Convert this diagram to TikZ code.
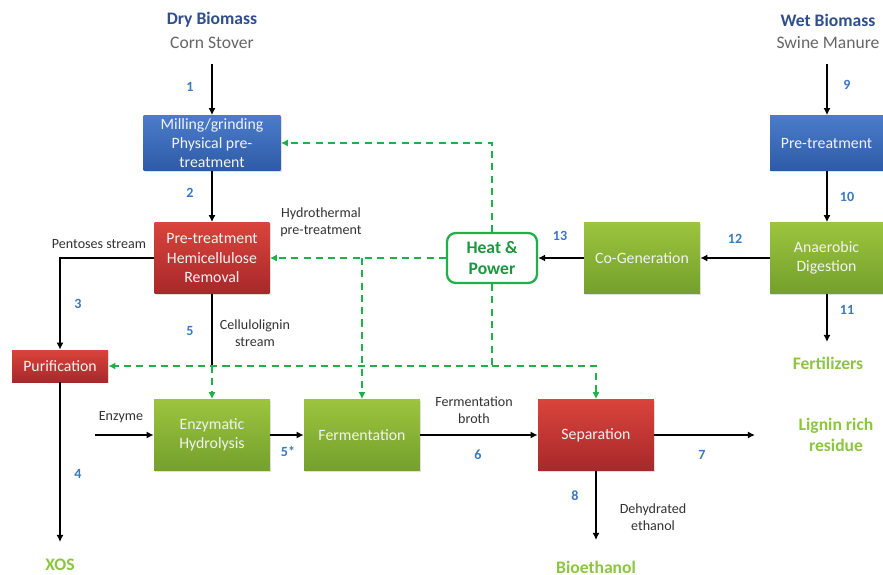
\documentclass[tikz,border=0pt]{standalone}
\usepackage{fontspec}
\setmainfont{Carlito}
\usetikzlibrary{arrows.meta,calc,shadows}
\definecolor{bluetop}{HTML}{4A7CCB}
\definecolor{bluebot}{HTML}{2E5BA6}
\definecolor{redtop}{HTML}{D9443C}
\definecolor{redbot}{HTML}{A8282A}
\definecolor{grntop}{HTML}{9CC43E}
\definecolor{grnbot}{HTML}{74A02C}
\definecolor{numblue}{HTML}{3A78C0}
\definecolor{titleblue}{HTML}{2F4E8C}
\definecolor{subgray}{HTML}{666666}
\definecolor{outgreen}{HTML}{8CC63F}
\definecolor{dashgreen}{HTML}{1FB04A}
\definecolor{boxtext}{HTML}{F2F2F2}
\definecolor{lbl}{HTML}{333333}
\tikzset{
  px/.style={x=0.02cm,y=-0.02cm},
  proc/.style={rectangle, draw=none, text=boxtext, align=center,
    font=\fontsize{9}{11}\selectfont, inner sep=1pt,
    drop shadow={shadow xshift=0.6pt, shadow yshift=-0.8pt, opacity=0.25}},
  bluebox/.style={proc, top color=bluetop, bottom color=bluebot},
  redbox/.style={proc, top color=redtop, bottom color=redbot},
  grnbox/.style={proc, top color=grntop, bottom color=grnbot},
  num/.style={text=numblue, font=\fontsize{8}{9}\selectfont\bfseries},
  lab/.style={text=lbl, align=center, font=\fontsize{8}{9.5}\selectfont},
  ttl/.style={text=titleblue, font=\fontsize{10}{11}\selectfont\bfseries},
  sub/.style={text=subgray, font=\fontsize{10}{11}\selectfont},
  outp/.style={text=outgreen, align=center, font=\fontsize{10}{12}\selectfont\bfseries},
  flow/.style={draw=black, line width=0.9pt, -{Latex[length=4pt,width=4pt]}},
  flowplain/.style={draw=black, line width=0.9pt},
  heat/.style={draw=dashgreen, line width=1pt, dash pattern=on 4pt off 3pt, -{Latex[length=4pt,width=4pt]}},
}
\begin{document}
\begin{tikzpicture}[px]
\useasboundingbox[fill=white] (0,0) rectangle (883,575);
% titles
\node[ttl] (dry) at (212,20) {Dry Biomass};
\node[sub] (corn) at (212,43) {Corn Stover};
\node[ttl] (wet) at (828,20) {Wet Biomass};
\node[sub] (swine) at (828,43) {Swine Manure};
% boxes
\node[bluebox, minimum width=2.74cm, minimum height=1.10cm] (mill) at (212,143) {Milling/grinding\\Physical pre-\\treatment};
\node[redbox, minimum width=2.30cm, minimum height=1.42cm] (hemi) at (212,258) {Pre-treatment\\Hemicellulose\\Removal};
\node[redbox, minimum width=1.92cm, minimum height=0.64cm] (puri) at (60,366) {Purification};
\node[grnbox, minimum width=2.32cm, minimum height=1.42cm] (enz) at (212,435) {Enzymatic\\Hydrolysis};
\node[grnbox, minimum width=2.32cm, minimum height=1.42cm] (ferm) at (362,435) {Fermentation};
\node[redbox, minimum width=2.32cm, minimum height=1.42cm] (sep) at (596,435) {Separation};
\node[grnbox, minimum width=2.32cm, minimum height=1.42cm] (cogen) at (642,258) {Co-Generation};
\node[grnbox, minimum width=2.26cm, minimum height=1.42cm] (anae) at (826.5,258) {Anaerobic\\Digestion};
\node[bluebox, minimum width=2.26cm, minimum height=1.10cm] (pret) at (826.5,143) {Pre-treatment};
\node[rectangle, rounded corners=5pt, draw=dashgreen, line width=1.3pt, fill=white,
  text=dashgreen!85!black, align=center, font=\fontsize{10}{12}\selectfont\bfseries,
  minimum width=1.80cm, minimum height=1.0cm, inner sep=1pt] (hp) at (492,258) {Heat \&\\Power};
% outputs
\node[outp] (xos) at (60,565) {XOS};
\node[outp] (bio) at (596,567) {Bioethanol};
\node[outp] (lig) at (836,435) {Lignin rich\\residue};
\node[outp] (fert) at (828,363) {Fertilizers};
% helper coordinates
\coordinate (dryend) at (212,64);
\coordinate (wetend) at (827,64);
\coordinate (pentc) at (60,258);
\coordinate (enzin) at (95,435);
\coordinate (xosin) at (60,542);
\coordinate (bioin) at (596,540);
\coordinate (ligin) at (755,435);
\coordinate (fertin) at (827,342);
\coordinate (jcell) at (212,366);
\coordinate (hptop) at (492,143);
\coordinate (hpbot) at (492,366);
\coordinate (sepc) at (596,366);
\coordinate (fermc) at (362,258);
% black flows
\draw[flow] (dryend) -- (mill.north);
\draw[flow] (mill.south) -- (hemi.north);
\draw[flow] (hemi.west) -- (pentc) -- (puri.north);
\draw[flowplain] (hemi.south) -- (jcell);
\draw[flow] (puri.south) -- (xosin);
\draw[flow] (enzin) -- (enz.west);
\draw[flow] (enz.east) -- (ferm.west);
\draw[flow] (ferm.east) -- (sep.west);
\draw[flow] (sep.east) -- (ligin);
\draw[flow] (sep.south) -- (bioin);
\draw[flow] (wetend) -- (pret.north -| wetend);
\draw[flow] (pret.south -| wetend) -- (anae.north -| wetend);
\draw[flow] (anae.south -| wetend) -- (fertin);
\draw[flow] (anae.west) -- (cogen.east);
\draw[flow] (cogen.west) -- (hp.east);
% green dashed heat lines
\draw[heat] (hp.north) -- (hptop) -- (mill.east);
\draw[heat] (hp.west) -- (hemi.east);
\draw[heat] (fermc) -- (ferm.north);
\draw[heat] (hp.south) -- (hpbot) -- (puri.east);
\draw[heat] (hpbot) -- (sepc) -- (sep.north);
\draw[heat] (jcell) -- (enz.north);
% numbers
\node[num] (n1) at (190,87) {1};
\node[num] (n2) at (190,193) {2};
\node[num] (n3) at (78,304) {3};
\node[num] (n4) at (78,474) {4};
\node[num] (n5) at (190,331) {5};
\node[num] (n5s) at (288,452) {5*};
\node[num] (n6) at (478,455) {6};
\node[num] (n7) at (702,455) {7};
\node[num] (n8) at (575,496) {8};
\node[num] (n9) at (847,85) {9};
\node[num] (n10) at (847,197) {10};
\node[num] (n11) at (847,310) {11};
\node[num] (n12) at (735,239) {12};
\node[num] (n13) at (560,236) {13};
% labels
\node[lab] (hyd) at (321,222) {Hydrothermal\\pre-treatment};
\node[lab] (pent) at (99,244) {Pentoses stream};
\node[lab] (cell) at (255,333) {Cellulolignin\\stream};
\node[lab] (enzl) at (121,417) {Enzyme};
\node[lab] (broth) at (474,410) {Fermentation\\broth};
\node[lab] (dehy) at (653,517) {Dehydrated\\ethanol};
\end{tikzpicture}
\end{document}
